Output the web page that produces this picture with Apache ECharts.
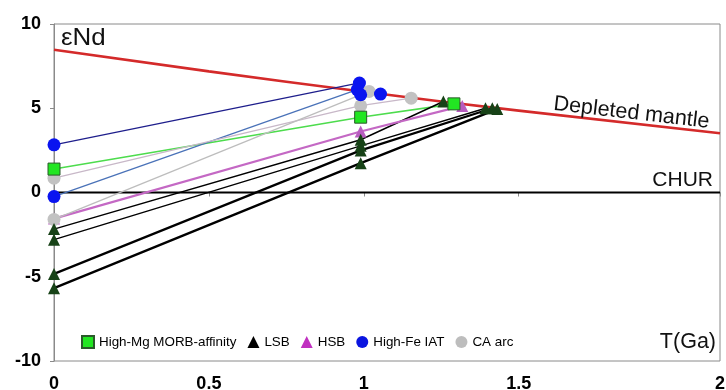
<!DOCTYPE html>
<html>
<head>
<meta charset="utf-8">
<script src="https://cdn.jsdelivr.net/npm/echarts@6/dist/echarts.min.js"></script>
<style>
html,body{margin:0;padding:0;background:#fff;}
#c{width:726px;height:390px;}
</style>
</head>
<body>
<div id="c"></div>
<script>
// ---- data ----
const xTicks = [0, 0.5, 1, 1.5, 2.15];
const xTickLabels = ['0', '0.5', '1', '1.5', '2'];
const yTicks = [-10, -5, 0, 5, 10];

const depletedMantle = [[0, 8.47], [0.5, 7.19], [1, 5.98], [1.5, 4.86], [2.15, 3.52]];
const chur = [[0, 0], [2.15, 0]];

const morbSamples = [
  [[0, 1.39], [0.99, 4.47], [1.291, 5.26]]
];
const lsbSamples = [
  [[0, -5.68], [0.99, 1.74], [1.431, 4.95]],
  [[0, -4.83], [0.99, 2.5], [1.415, 5.0]],
  [[0, -2.8], [0.99, 2.77], [1.393, 5.0]],
  [[0, -2.17], [0.99, 3.13], [1.257, 5.4]]
];
const hsbSamples = [
  [[0, -1.55], [0.99, 3.62], [1.318, 5.14]]
];
const iatSamples = [
  [[0, 2.83], [0.986, 6.5]],
  [[0, -0.24], [0.979, 6.1]],
  [[0.99, 5.8], [1.054, 5.84]]
];
const caSamples = [
  [[0, 0.85], [0.99, 5.15], [1.153, 5.6]],
  [[0, -1.6], [1.017, 6.0]]
];

// ---- styles ----
const FONT = 'Liberation Sans, Arial, sans-serif';
const lsbLineWidths = [2.4, 2.2, 1.4, 1.4];
const iatLineColors = ['#1e1e8c', '#4a72b8', '#2a3ad0'];
const caLineColors = ['#c8b8c8', '#bdbdbd'];

const series = [];
function addLine(name, data, color, width) {
  series.push({
    name: name, type: 'line', data: data, showSymbol: false, symbol: 'none',
    lineStyle: {color: color, width: width}, z: 2, silent: true, animation: false
  });
}
addLine('dm', depletedMantle, '#d42a2a', 2.6);
series[series.length - 1].smooth = true;
addLine('chur', chur, '#000', 2.2);
morbSamples.forEach(s => addLine('morbL', s, '#4ddc4d', 1.6));
lsbSamples.forEach((s, i) => addLine('lsbL', s, '#000', lsbLineWidths[i]));
hsbSamples.forEach(s => addLine('hsbL', s, '#c468c4', 2.2));
iatSamples.forEach((s, i) => addLine('iatL', s, iatLineColors[i], 1.3));
caSamples.forEach((s, i) => addLine('caL', s, caLineColors[i], 1.3));

function addPts(name, samples, symbol, size, color, border, z) {
  series.push({
    name: name, type: 'scatter', symbol: symbol, symbolSize: size,
    data: [].concat(...samples),
    itemStyle: {color: color, borderColor: border || color, borderWidth: border ? 1 : 0, opacity: 1},
    z: z, silent: true, animation: false
  });
}
addPts('HSB', hsbSamples, 'triangle', 12, '#b85cc0', null, 3);
addPts('CA arc', caSamples, 'circle', 13, '#c2c2c2', null, 4);
addPts('LSB', lsbSamples, 'triangle', 12, '#174217', null, 5);
addPts('High-Mg MORB-affinity', morbSamples, 'rect', 12, '#22e622', '#2a5a2a', 6);
addPts('High-Fe IAT', iatSamples, 'circle', 13, '#0a14f0', null, 7);

const chart = echarts.init(document.getElementById('c'), null, {renderer: 'canvas'});
chart.setOption({
  animation: false,
  backgroundColor: '#fff',
  grid: {left: 54, right: 6, top: 24, bottom: 29, outerBoundsMode: 'none', containLabel: false,
    show: true, borderColor: '#8a8a8a', borderWidth: 1, backgroundColor: 'transparent'},
  xAxis: {
    type: 'value', min: 0, max: 2.15,
    axisLine: {show: true, lineStyle: {color: '#8a8a8a', width: 1}},
    axisTick: {show: true, length: 4, lineStyle: {color: '#8a8a8a'}, customValues: xTicks},
    axisLabel: {
      customValues: xTicks, margin: 14, color: '#000', fontSize: 18, fontWeight: 'bold', fontFamily: FONT,
      formatter: v => xTickLabels[xTicks.indexOf(v)] !== undefined ? xTickLabels[xTicks.indexOf(v)] : ''
    },
    splitLine: {show: false}
  },
  yAxis: {
    type: 'value', min: -10, max: 10, interval: 5,
    axisLine: {show: true, lineStyle: {color: '#8a8a8a', width: 1}},
    axisTick: {show: true, length: 4, lineStyle: {color: '#8a8a8a'}},
    axisLabel: {margin: 13, color: '#000', fontSize: 18, fontWeight: 'bold', fontFamily: FONT},
    splitLine: {show: false}
  },
  legend: {
    left: 76, top: 330, itemWidth: 12, itemHeight: 12, itemGap: 11,
    textStyle: {fontSize: 13.4, color: '#000', fontFamily: FONT},
    data: [
      {name: 'High-Mg MORB-affinity', icon: 'rect'},
      {name: 'LSB', icon: 'triangle', itemStyle: {color: '#000', borderWidth: 0}},
      {name: 'HSB', icon: 'triangle', itemStyle: {color: '#c030c0', borderWidth: 0}},
      {name: 'High-Fe IAT', icon: 'circle', itemStyle: {color: '#0a14e0', borderWidth: 0}},
      {name: 'CA arc', icon: 'circle', itemStyle: {color: '#bdbdbd', borderWidth: 0}}
    ],
    selectedMode: false
  },
  graphic: [
    {type: 'text', left: 61, top: 26, scaleX: 1.08, style: {text: 'εNd', fontSize: 24, fontFamily: FONT, fill: '#111'}, z: 10},
    {type: 'text', x: 555, y: 93, rotation: -0.115, style: {text: 'Depleted mantle', fontSize: 21.5, fontFamily: FONT, fill: '#111'}, z: 10},
    {type: 'text', right: 13, top: 170, style: {text: 'CHUR', fontSize: 21, fontFamily: FONT, fill: '#111'}, z: 10},
    {type: 'text', right: 10, top: 331, style: {text: 'T(Ga)', fontSize: 21.5, fontFamily: FONT, fill: '#111'}, z: 10}
  ],
  series: series
});
</script>
</body>
</html>
